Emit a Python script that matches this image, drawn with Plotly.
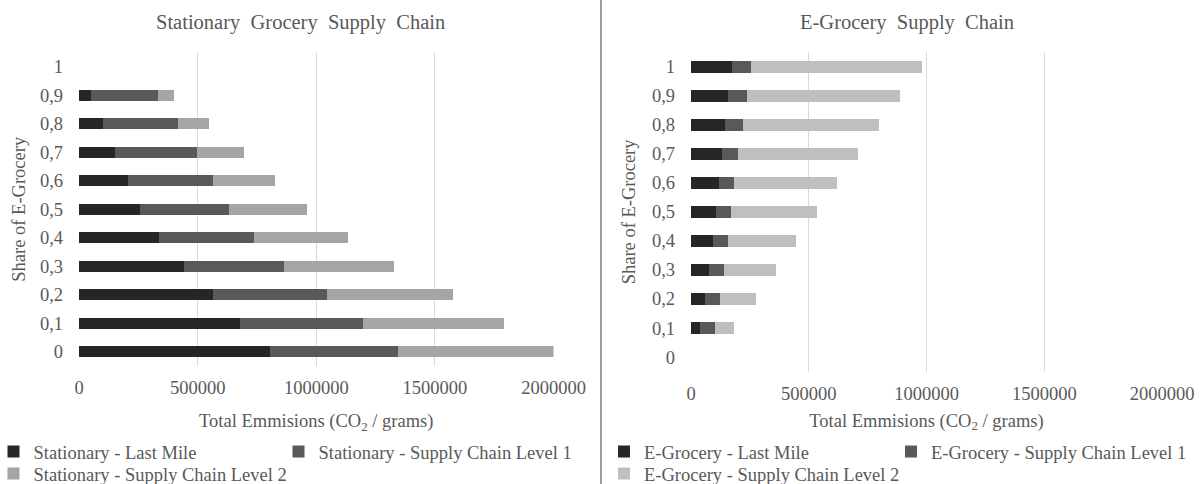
import plotly.graph_objects as go

W, H = 1203, 484
ML, MR, MT, MB = 30, 30, 0, 30
OFF = 42  # offset from legend box left edge to its text

shares = ["0", "0,1", "0,2", "0,3", "0,4", "0,5", "0,6", "0,7", "0,8", "0,9", "1"]

# Stationary grocery supply chain (grams CO2)
stat_last_mile = [805000, 677600, 564700, 443700, 335400, 255000, 204800, 150000, 103200, 48500, 0]
stat_level1 = [538000, 520900, 480300, 420600, 403300, 375800, 358200, 346800, 314400, 284000, 0]
stat_level2 = [657000, 593300, 530600, 463100, 395300, 330400, 264200, 196800, 132300, 69100, 0]

# E-grocery supply chain (grams CO2)
e_last_mile = [0, 39100, 60300, 76600, 94500, 106000, 119000, 132000, 145100, 158100, 172800]
e_level1 = [0, 62000, 63600, 61900, 63600, 65100, 63600, 66900, 76600, 78200, 83100]
e_level2 = [0, 83100, 153200, 221700, 288500, 361900, 436800, 508500, 578600, 652000, 723700]

x_ticks = [0, 500000, 1000000, 1500000, 2000000]

FONT = "Liberation Serif, Tinos, 'Times New Roman', 'DejaVu Serif', serif"
TXT = "#595959"
C_LM = "#262626"
C_L1 = "#595959"
C_L2S = "#a5a5a5"
C_L2E = "#bfbfbf"
FS = 18.5


def px(x):
    return (x - ML) / (W - ML - MR)


def py(y):
    return (H - MB - y) / (H - MT - MB)


fig = go.Figure()

left = [
    ("Stationary - Last Mile", stat_last_mile, C_LM, "legend"),
    ("Stationary - Supply Chain Level 1", stat_level1, C_L1, "legend2"),
    ("Stationary - Supply Chain Level 2", stat_level2, C_L2S, "legend3"),
]
right = [
    ("E-Grocery - Last Mile", e_last_mile, C_LM, "legend4"),
    ("E-Grocery - Supply Chain Level 1", e_level1, C_L1, "legend5"),
    ("E-Grocery - Supply Chain Level 2", e_level2, C_L2E, "legend6"),
]

for name, vals, col, lg in left:
    fig.add_trace(go.Bar(y=shares, x=vals, orientation="h", name=name, showlegend=True,
                         marker=dict(color=col, line=dict(width=0)),
                         xaxis="x", yaxis="y", legend=lg))
for name, vals, col, lg in right:
    fig.add_trace(go.Bar(y=shares, x=vals, orientation="h", name=name, showlegend=True,
                         marker=dict(color=col, line=dict(width=0)),
                         xaxis="x2", yaxis="y2", legend=lg))

tickfont = dict(family=FONT, size=FS, color=TXT)

xcommon = dict(range=[0, 2000000], tickvals=x_ticks, tickformat="d",
               showgrid=True, gridcolor="#d9d9d9", gridwidth=1,
               zeroline=False, showline=False, ticks="",
               tickfont=tickfont, fixedrange=True)
ycommon = dict(type="category", categoryorder="array", categoryarray=shares,
               range=[-0.5, 10.5], showgrid=False, zeroline=False, showline=False,
               ticks="", tickfont=tickfont, ticklabelstandoff=15, fixedrange=True)

xtitle = "Total Emmisions (CO<sub>2</sub> / grams)"


def leg(xtext, ycenter):
    return dict(orientation="h", x=px(xtext - OFF), y=py(ycenter),
                xanchor="left", yanchor="middle", font=tickfont,
                bgcolor="rgba(0,0,0,0)")


fig.update_layout(
    width=W, height=H,
    margin=dict(l=ML, r=MR, t=MT, b=MB, autoexpand=False),
    paper_bgcolor="white", plot_bgcolor="white",
    showlegend=True,
    barmode="stack", bargap=0.6,
    font=dict(family=FONT, size=FS, color=TXT),
    xaxis=dict(domain=[px(79), px(553.5)], anchor="y", ticklabelstandoff=8,
               title=dict(text=xtitle, font=tickfont, standoff=17), **xcommon),
    yaxis=dict(domain=[py(366), py(52.5)], anchor="x",
               title=dict(text="Share of E-Grocery", font=tickfont, standoff=9), **ycommon),
    xaxis2=dict(domain=[px(691), px(1162)], anchor="y2", ticklabelstandoff=9,
                title=dict(text=xtitle, font=tickfont, standoff=10), **xcommon),
    yaxis2=dict(domain=[py(371.6), py(52.2)], anchor="x2",
                title=dict(text="Share of E-Grocery", font=tickfont, standoff=11), **ycommon),
    legend=leg(35.5, 452),
    legend2=leg(320.5, 452),
    legend3=leg(35.5, 474),
    legend4=leg(646, 452),
    legend5=leg(933, 452),
    legend6=leg(646, 474),
    shapes=[dict(type="line", xref="paper", yref="paper", x0=px(601), x1=px(601),
                 y0=py(484), y1=py(0), line=dict(color="#7f7f7f", width=1.5))],
    annotations=[
        dict(text="Stationary\u00a0 Grocery\u00a0 Supply\u00a0 Chain", x=px(300), y=py(23),
             xref="paper", yref="paper", xanchor="center", yanchor="middle", showarrow=False,
             font=dict(family=FONT, size=20.5, color=TXT)),
        dict(text="E-Grocery\u00a0 Supply\u00a0 Chain", x=px(907), y=py(23),
             xref="paper", yref="paper", xanchor="center", yanchor="middle", showarrow=False,
             font=dict(family=FONT, size=20.5, color=TXT)),
    ],
)

fig.write_html("out.html", config={"displayModeBar": False},
               post_script="document.body.style.margin='0';document.body.style.overflow='hidden';")
